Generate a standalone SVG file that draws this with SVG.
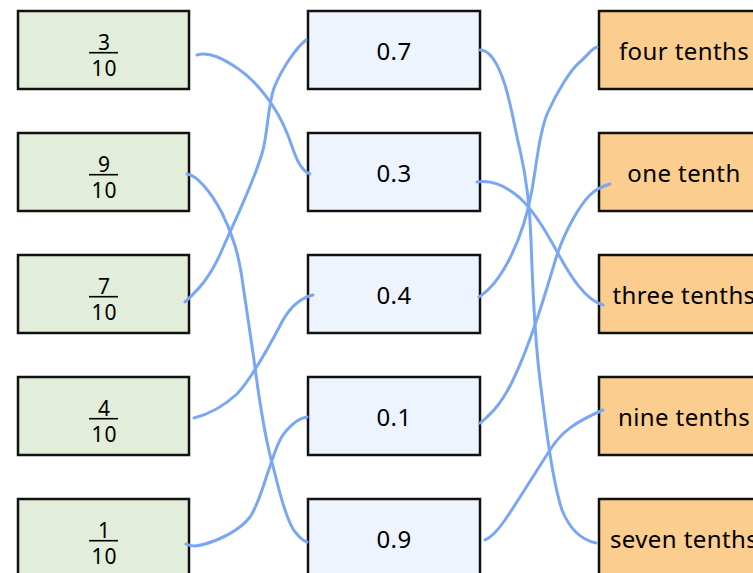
<svg xmlns="http://www.w3.org/2000/svg" width="753" height="573" viewBox="0 0 753 573">
<style>
.box{stroke:#111;stroke-width:2.5}
.g{fill:#e2edda}
.b{fill:#edf4fd}
.o{fill:#fbcd8e}
text{font-family:"Noto Sans","Open Sans","DejaVu Sans",sans-serif;fill:#000;text-anchor:middle}
.lbl{font-size:24px;letter-spacing:0.4px}
.fr{font-size:21px;letter-spacing:1px}
.bar{stroke:#000;stroke-width:1.6}
.c{fill:none;stroke:#7aa7f3;stroke-width:3;stroke-linecap:round;stroke-linejoin:round}
</style>
<g id="frac-3-10"><rect class="box g" x="18" y="11" width="171" height="78"/><text class="fr" x="104.5" y="50">3</text><line class="bar" x1="89" y1="52.7" x2="118" y2="52.7"/><text class="fr" x="104.5" y="76">10</text></g>
<g id="frac-9-10"><rect class="box g" x="18" y="133" width="171" height="78"/><text class="fr" x="104.5" y="172">9</text><line class="bar" x1="89" y1="174.7" x2="118" y2="174.7"/><text class="fr" x="104.5" y="198">10</text></g>
<g id="frac-7-10"><rect class="box g" x="18" y="255" width="171" height="78"/><text class="fr" x="104.5" y="294">7</text><line class="bar" x1="89" y1="296.7" x2="118" y2="296.7"/><text class="fr" x="104.5" y="320">10</text></g>
<g id="frac-4-10"><rect class="box g" x="18" y="377" width="171" height="78"/><text class="fr" x="104.5" y="416">4</text><line class="bar" x1="89" y1="418.7" x2="118" y2="418.7"/><text class="fr" x="104.5" y="442">10</text></g>
<g id="frac-1-10"><rect class="box g" x="18" y="499" width="171" height="78"/><text class="fr" x="104.5" y="538">1</text><line class="bar" x1="89" y1="540.7" x2="118" y2="540.7"/><text class="fr" x="104.5" y="564">10</text></g>
<g id="dec-07"><rect class="box b" x="308" y="11" width="172" height="78"/><text class="lbl" x="394" y="60">0.7</text></g>
<g id="dec-03"><rect class="box b" x="308" y="133" width="172" height="78"/><text class="lbl" x="394" y="182">0.3</text></g>
<g id="dec-04"><rect class="box b" x="308" y="255" width="172" height="78"/><text class="lbl" x="394" y="304">0.4</text></g>
<g id="dec-01"><rect class="box b" x="308" y="377" width="172" height="78"/><text class="lbl" x="394" y="426">0.1</text></g>
<g id="dec-09"><rect class="box b" x="308" y="499" width="172" height="78"/><text class="lbl" x="394" y="548">0.9</text></g>
<g id="word-four"><rect class="box o" x="599" y="11" width="171" height="78"/><text class="lbl" x="684" y="60">four tenths</text></g>
<g id="word-one"><rect class="box o" x="599" y="133" width="171" height="78"/><text class="lbl" x="684" y="182">one tenth</text></g>
<g id="word-three"><rect class="box o" x="599" y="255" width="171" height="78"/><text class="lbl" x="684" y="304">three tenths</text></g>
<g id="word-nine"><rect class="box o" x="599" y="377" width="171" height="78"/><text class="lbl" x="684" y="426">nine tenths</text></g>
<g id="word-seven"><rect class="box o" x="599" y="499" width="171" height="78"/><text class="lbl" x="684" y="548">seven tenths</text></g>
<g id="connectors">
<path class="c" d="M197,55 C210,51 225,60 237,68 C258,82 277,108 287,133 C294,150 298,170 310,174"/>
<path class="c" d="M187,174 C196,175 210,190 222,213 C233,235 239,255 243,285 L253,353 C257,380 262,430 274,470 C280,495 288,525 296,533 C300,538 304,541 307,542"/>
<path class="c" d="M185,302 C198,290 210,278 222,250 C235,220 255,180 263,150 C268,130 268,105 274,88 C282,68 296,48 306,40"/>
<path class="c" d="M194,418 C210,414 225,405 237,394 C250,380 270,345 283,320 C290,308 300,298 313,295"/>
<path class="c" d="M186,544 C190,546 196,547 205,544 C220,540 240,530 250,517 C258,505 262,490 268,472 C274,455 278,440 286,431 C292,424 300,418 307,417"/>
<path class="c" d="M480,50 C488,50 497,60 505,85 C512,108 515,130 520,150 C527,180 530,210 531,240 C533,300 535,340 540,380 C545,420 552,480 562,510 C570,530 582,540 596,543"/>
<path class="c" d="M477,182 C490,180 505,185 520,198 C535,212 548,235 560,257 C570,275 585,300 603,305"/>
<path class="c" d="M479,297 C490,290 500,278 510,258 C520,238 527,218 532,190 C537,160 540,130 548,112 C556,94 570,70 580,62 C588,55 592,48 597,47"/>
<path class="c" d="M610,184 C603,186 597,188 590,195 C580,205 565,230 556,258 C545,295 530,345 513,380 C505,397 495,410 487,417 C484,420 482,422 480,423"/>
<path class="c" d="M485,540 C490,538 496,533 505,520 C520,498 540,465 552,447 C562,432 575,422 603,410"/>
</g>
</svg>
